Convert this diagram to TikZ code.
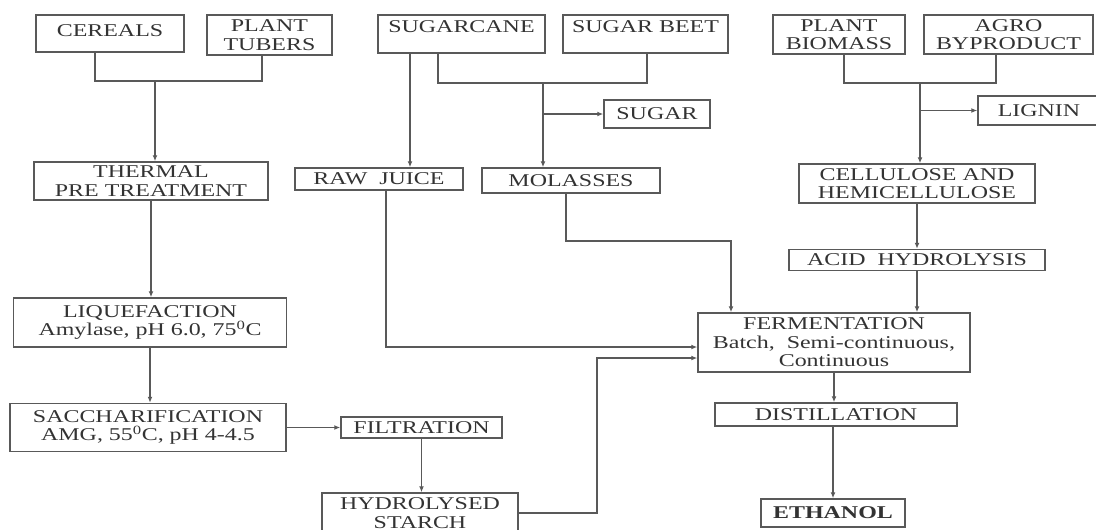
\documentclass[tikz,border=0pt]{standalone}
\usepackage{fontspec}
\setmainfont{Liberation Serif}[FakeStretch=1.33]
\usetikzlibrary{arrows.meta}
\begin{document}
\begin{tikzpicture}[x=1pt,y=-1pt,
  box/.style={draw=black!65, line width=1.5pt, rectangle, inner sep=0pt, align=center,
    text=black!80, font=\fontsize{18}{18.5}\selectfont},
  topbox/.style={box, text depth=14pt},
  line/.style={draw=black!65, line width=1.5pt},
  arr/.style={line, -{Latex[length=6pt,width=5pt]}}]
\useasboundingbox (0,0) rectangle (1096,530);
% left column
\node[topbox, minimum width=148pt, minimum height=37pt, text depth=6pt] (cereals) at (110,33.5) {CEREALS};
\node[box, minimum width=125pt, minimum height=40pt] (tubers) at (269.5,35) {PLANT\\TUBERS};
\node[box, minimum width=234pt, minimum height=38pt] (thermal) at (151,181) {THERMAL\\PRE TREATMENT};
\node[box, minimum width=273pt, minimum height=49pt] (liq) at (150,322.5) {LIQUEFACTION\\Amylase, pH 6.0, 75\textsuperscript{0}C};
\node[box, minimum width=276pt, minimum height=48pt] (sacch) at (148,427.5) {SACCHARIFICATION\\AMG, 55\textsuperscript{0}C, pH 4-4.5};
\node[box, minimum width=161pt, minimum height=21pt] (filt) at (421.5,427.5) {FILTRATION};
\node[box, minimum width=196pt, minimum height=40pt] (hydro) at (420,513) {HYDROLYSED\\STARCH};
% middle column
\node[topbox, minimum width=167pt, minimum height=38pt] (sugarcane) at (461.5,34) {SUGARCANE};
\node[topbox, minimum width=165pt, minimum height=38pt] (sugarbeet) at (645.5,34) {SUGAR BEET};
\node[box, minimum width=106pt, minimum height=28pt] (sugar) at (657,114) {SUGAR};
\node[box, minimum width=168pt, minimum height=22pt] (rawjuice) at (379,179) {RAW\ \ JUICE};
\node[box, minimum width=178pt, minimum height=25pt] (molasses) at (571,180.5) {MOLASSES};
% right column
\node[box, minimum width=132pt, minimum height=39pt] (biomass) at (839,34.5) {PLANT\\BIOMASS};
\node[box, minimum width=169pt, minimum height=39pt] (agro) at (1008.5,34.5) {AGRO\\BYPRODUCT};
\node[box, minimum width=122pt, minimum height=29pt, text width=112pt] (lignin) at (1039,110.5) {LIGNIN};
\node[box, minimum width=236pt, minimum height=39pt] (cellulose) at (917,183.5) {CELLULOSE AND\\HEMICELLULOSE};
\node[box, minimum width=256pt, minimum height=21pt] (acid) at (917,260) {ACID\ \ HYDROLYSIS};
\node[box, minimum width=272pt, minimum height=59pt] (ferm) at (834,342.5) {FERMENTATION\\Batch,\ \ Semi-continuous,\\Continuous};
\node[box, minimum width=242pt, minimum height=23pt] (dist) at (836,414.5) {DISTILLATION};
\node[box, minimum width=144pt, minimum height=28pt, font=\fontsize{18}{18.5}\selectfont\bfseries] (ethanol) at (833,513) {ETHANOL};
% junction coordinates
\coordinate (cj) at (155,81);
\coordinate (sj) at (543,83);
\coordinate (bj) at (920,83);
\coordinate (hf) at (597,358);
\coordinate (rj) at (386,347);
\coordinate (mf) at (731,241);
% left connectors
\draw[line] ([xshift=-15pt]cereals.south) |- (cj) -| ([xshift=-7.5pt]tubers.south);
\draw[arr] (cj) -- (cj |- thermal.north);
\draw[arr] (thermal.south) -- (thermal.south |- liq.north);
\draw[arr] (liq.south) -- (liq.south |- sacch.north);
\draw[arr] (sacch.east) -- (filt.west);
\draw[arr] (filt.south) -- (filt.south |- hydro.north);
\draw[arr] (hydro.east) -| (hf) -- (hf -| ferm.west);
% middle connectors
\draw[arr] ([xshift=-51.5pt]sugarcane.south) coordinate (sca) -- (sca |- rawjuice.north);
\draw[line] ([xshift=-23.5pt]sugarcane.south) |- (sj) -| ([xshift=1.5pt]sugarbeet.south);
\draw[arr] (sj) -- (sj |- molasses.north);
\draw[arr] (sj |- sugar.west) -- (sugar.west);
\draw[arr] (rawjuice.south -| rj) -- (rj) -- (rj -| ferm.west);
\draw[arr] ([xshift=-5pt]molasses.south) |- (mf) -- (mf |- ferm.north);
% right connectors
\draw[line] ([xshift=5pt]biomass.south) |- (bj) -| ([xshift=-12.5pt]agro.south);
\draw[arr] (bj) -- (bj |- cellulose.north);
\draw[arr] (bj |- lignin.west) -- (lignin.west);
\draw[arr] (cellulose.south) -- (cellulose.south |- acid.north);
\draw[arr] (acid.south) -- (acid.south |- ferm.north);
\draw[arr] (ferm.south) -- (ferm.south |- dist.north);
\draw[arr] (ethanol.north |- dist.south) -- (ethanol.north);
\end{tikzpicture}
\end{document}
